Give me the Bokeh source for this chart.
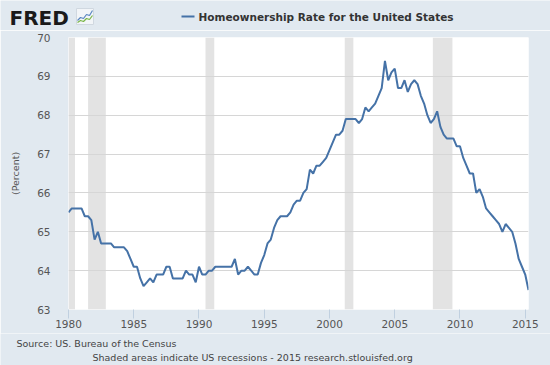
from bokeh.plotting import figure
from bokeh.models import Range1d, FixedTicker
from bokeh.layouts import column
from bokeh.core.properties import value
from bokeh.embed import file_html
from bokeh.resources import INLINE

# ---- data (quarterly, from 1980 Q1) ----
start_year = 1980
rate = [
    65.5, 65.6, 65.6, 65.6, 65.6, 65.4, 65.4, 65.3,   # 1980-81
    64.8, 65.0, 64.7, 64.7, 64.7, 64.7, 64.6, 64.6,   # 1982-83
    64.6, 64.6, 64.5, 64.3, 64.1, 64.1, 63.8, 63.6,   # 1984-85
    63.7, 63.8, 63.7, 63.9, 63.9, 63.9, 64.1, 64.1,   # 1986-87
    63.8, 63.8, 63.8, 63.8, 64.0, 63.9, 63.9, 63.7,   # 1988-89
    64.1, 63.9, 63.9, 64.0, 64.0, 64.1, 64.1, 64.1,   # 1990-91
    64.1, 64.1, 64.1, 64.3, 63.9, 64.0, 64.0, 64.1,   # 1992-93
    64.0, 63.9, 63.9, 64.2, 64.4, 64.7, 64.8, 65.1,   # 1994-95
    65.3, 65.4, 65.4, 65.4, 65.5, 65.7, 65.8, 65.8,   # 1996-97
    66.0, 66.1, 66.6, 66.5, 66.7, 66.7, 66.8, 66.9,   # 1998-99
    67.1, 67.3, 67.5, 67.5, 67.6, 67.9, 67.9, 67.9,   # 2000-01
    67.9, 67.8, 67.9, 68.2, 68.1, 68.2, 68.3, 68.5,   # 2002-03
    68.7, 69.4, 68.9, 69.1, 69.2, 68.7, 68.7, 68.9,   # 2004-05
    68.6, 68.8, 68.9, 68.8, 68.5, 68.3, 68.0, 67.8,   # 2006-07
    67.9, 68.1, 67.7, 67.5, 67.4, 67.4, 67.4, 67.2,   # 2008-09
    67.2, 66.9, 66.7, 66.5, 66.5, 66.0, 66.1, 65.9,   # 2010-11
    65.6, 65.5, 65.4, 65.3, 65.2, 65.0, 65.2, 65.1,   # 2012-13
    65.0, 64.7, 64.3, 64.1, 63.9, 63.5,               # 2014-15
]
dates = [start_year + i / 4 for i in range(len(rate))]

rec_start = [1980.0, 1981.5, 1990.5, 2001.17, 2007.92]
rec_end = [1980.5, 1982.86, 1991.17, 2001.83, 2009.42]

year_ticks = [1980, 1985, 1990, 1995, 2000, 2005, 2010, 2015]
pct_ticks = [63, 64, 65, 66, 67, 68, 69, 70]

title_text = "Homeownership Rate for the United States"
y_label = "(Percent)"
source_text = "Source: US. Bureau of the Census"
note_text = "Shaded areas indicate US recessions - 2015 research.stlouisfed.org"

BG = "#e1e9f0"
LINE = "#4572a7"
FONT = "DejaVu Sans"
W = 550
HEAD_H, MAIN_H, FOOT_H = 30, 303, 32


def blank(height):
    f = figure(width=W, height=height, output_backend="svg", toolbar_location=None,
               x_range=Range1d(0, W), y_range=Range1d(height, 0),
               min_border=0, min_border_left=0, min_border_right=0,
               min_border_top=0, min_border_bottom=0, frame_align=False)
    f.axis.visible = False
    f.grid.visible = False
    f.outline_line_color = None
    f.border_fill_color = BG
    f.background_fill_color = BG
    return f


# ---- header: logo + legend/title ----
head = blank(HEAD_H)
head.text(x=[9], y=[17.5], text=["FRED"], text_font=value(FONT), text_font_size="20px",
          text_font_style="bold", text_color="#1a1a1a", text_baseline="middle")
head.quad(left=[76], right=[93], top=[8], bottom=[24], fill_color="#f2f5f8",
          line_color="#d0d8e0", line_width=1)
head.line(x=[77, 80, 83, 86, 89, 92], y=[20, 17, 18, 14, 15, 10], line_color="#5a86c0", line_width=1.2)
head.line(x=[77, 80, 83, 86, 89, 92], y=[22, 20, 21, 18, 19, 15], line_color="#7ab648", line_width=1.2)
head.line(x=[181, 194], y=[16, 16], line_color=LINE, line_width=2)
head.text(x=[198], y=[16], text=[title_text], text_font=value(FONT), text_font_size="10.5px",
          text_font_style="bold", text_color="#333333", text_baseline="middle")

# ---- main chart ----
p = figure(width=W, height=MAIN_H, output_backend="svg", toolbar_location=None,
           x_range=Range1d(dates[0], dates[-1]), y_range=Range1d(63, 70),
           min_border_left=68, min_border_right=22, min_border_top=7, min_border_bottom=24,
           frame_align=False)
p.border_fill_color = BG
p.background_fill_color = "white"
p.outline_line_color = None

p.quad(left=rec_start, right=rec_end, bottom=[63] * len(rec_start), top=[70] * len(rec_start),
       fill_color="#e3e3e3", line_color=None, level="image")

p.line(dates, rate, line_color=LINE, line_width=2)

p.xgrid.grid_line_color = None
p.ygrid.grid_line_color = "#d6d6d6"
p.ygrid.grid_line_width = 1
p.ygrid.ticker = FixedTicker(ticks=pct_ticks)

xa = p.xaxis[0]
xa.ticker = FixedTicker(ticks=year_ticks)
xa.axis_line_color = None
xa.major_tick_out = 9
xa.major_tick_in = 0
xa.major_tick_line_color = "#c0d0e0"
xa.minor_tick_line_color = None
xa.major_label_standoff = 1
xa.major_label_text_font = FONT
xa.major_label_text_font_size = "10.5px"
xa.major_label_text_color = "#555555"

ya = p.yaxis[0]
ya.ticker = FixedTicker(ticks=pct_ticks)
ya.axis_line_color = None
ya.major_tick_line_color = None
ya.minor_tick_line_color = None
ya.major_tick_out = 0
ya.major_label_standoff = 18
ya.major_label_text_font = FONT
ya.major_label_text_font_size = "10.5px"
ya.major_label_text_color = "#555555"
ya.axis_label = y_label
ya.axis_label_text_font = FONT
ya.axis_label_text_font_size = "9.5px"
ya.axis_label_text_font_style = "normal"
ya.axis_label_text_color = "#555555"
ya.axis_label_standoff = 13

# ---- footer ----
foot = blank(FOOT_H)
foot.text(x=[16], y=[10], text=[source_text], text_font=value(FONT), text_font_size="9.5px",
          text_color="#444444", text_baseline="middle")
foot.text(x=[92], y=[24], text=[note_text], text_font=value(FONT), text_font_size="9.5px",
          text_color="#444444", text_baseline="middle")

layout = column(head, p, foot, spacing=0)

open("out.html", "w").write(file_html(layout, INLINE))
